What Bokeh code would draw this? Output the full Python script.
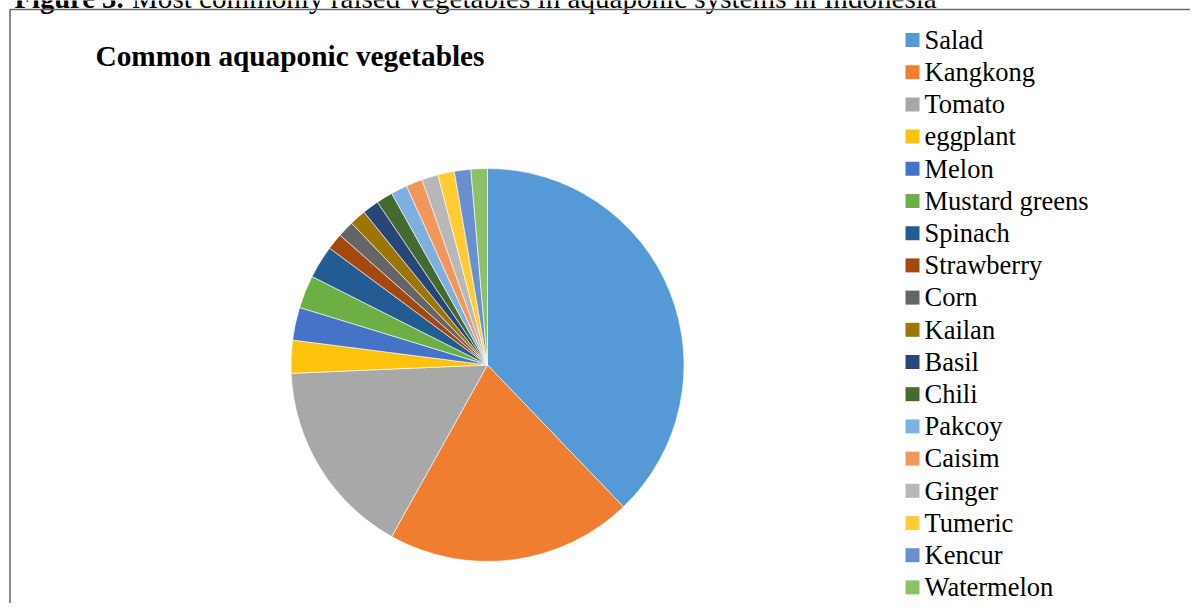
import math
from bokeh.plotting import figure
from bokeh.models import Range1d, ColumnDataSource
from bokeh.core.properties import value
from bokeh.embed import file_html
from bokeh.resources import INLINE

categories = ["Salad", "Kangkong", "Tomato", "eggplant", "Melon", "Mustard greens",
              "Spinach", "Strawberry", "Corn", "Kailan", "Basil", "Chili",
              "Pakcoy", "Caisim", "Ginger", "Tumeric", "Kencur", "Watermelon"]
counts = [28, 15, 12, 2, 2, 2, 2, 1, 1, 1, 1, 1, 1, 1, 1, 1, 1, 1]
colors = ["#5599D6", "#EF7E30", "#A8A8A8", "#FDC20A", "#4573C8", "#6DAE45",
          "#235C92", "#A1490F", "#656565", "#9C7503", "#284679", "#446A2D",
          "#7DB0DE", "#F1975A", "#B8B8B8", "#FFCD33", "#6A8FD0", "#8CC168"]
title = "Common aquaponic vegetables"
caption_bold = "Figure 3."
caption_rest = "Most commonly raised vegetables in aquaponic systems in Indonesia"

W, H = 1190, 603
p = figure(width=W, height=H, output_backend="svg", toolbar_location=None,
           x_range=Range1d(0, W), y_range=Range1d(-H, 0),
           min_border=0, outline_line_color=None)
p.axis.visible = False
p.grid.visible = False
p.background_fill_color = "white"
p.border_fill_color = "white"

FONT = value("Liberation Serif")
DY = 8.5  # renderer offset correction for text baselines

# figure caption (mostly cut off at the top, as in the reference)
p.text(x=[14], y=[-6 + DY], text=[caption_bold], text_font=FONT, text_font_style="bold",
       text_font_size="28.6px", text_color="black", text_baseline="alphabetic")
p.text(x=[131.5], y=[-6 + DY], text=[caption_rest], text_font=FONT,
       text_font_size="29.1px", text_color="black", text_baseline="alphabetic")

# chart frame (left and top edges visible)
p.line(x=[9.5, 9.5, 1300], y=[-700, -9, -9], line_color="#6b6b6b", line_width=1.6)

# pie
total = sum(counts)
starts, ends = [], []
acc = 0.0
for c in counts:
    a0 = acc / total * 2 * math.pi
    acc += c
    a1 = acc / total * 2 * math.pi
    starts.append(math.pi / 2 - a0)
    ends.append(math.pi / 2 - a1)
src = ColumnDataSource(dict(cat=categories, n=counts, color=colors,
                            start=starts, end=ends))
p.wedge(x=487, y=-364.5, radius=196.5, start_angle="start", end_angle="end",
        direction="clock", fill_color="color", line_color="white",
        line_width=0.6, source=src)

# title
p.text(x=[95], y=[-63.5 + DY], text=[title], text_font=FONT,
       text_font_style="bold", text_font_size="29.3px", text_color="black",
       text_baseline="alphabetic", text_align="left")

# legend
step = 32.2
mk_y = [-(39.5 + step * i) for i in range(len(categories))]
tx_y = [-(47.7 + step * i) + DY for i in range(len(categories))]
p.rect(x=[912] * len(categories), y=mk_y, width=14, height=14,
       fill_color=colors, line_color=None)
p.text(x=[924] * len(categories), y=tx_y, text=categories,
       text_font=FONT, text_font_size="26.5px",
       text_color="black", text_baseline="alphabetic", text_align="left")

open("out.html", "w").write(file_html(p, INLINE))
